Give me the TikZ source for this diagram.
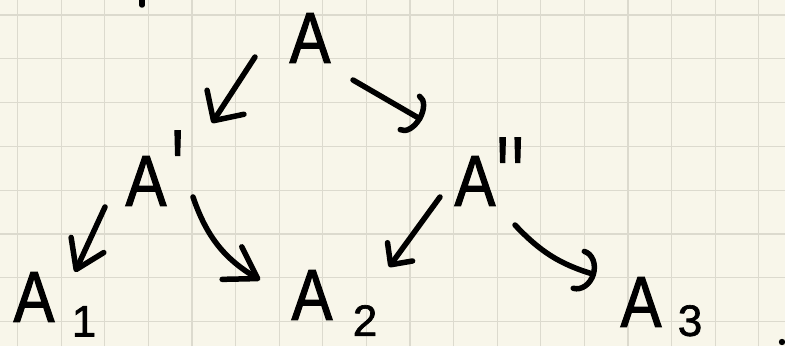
\documentclass[tikz,border=0pt]{standalone}
\usepackage{fontspec}
\usepackage{graphicx}
\newfontfamily\handfont[FakeStretch=0.85,FakeBold=1.5,Ligatures=TeXOff]{Liberation Sans}
\newfontfamily\digitfont[FakeBold=1.5]{Liberation Sans}
\usepackage{tikz}
\usetikzlibrary{arrows.meta,positioning}
\definecolor{paper}{HTML}{F8F6EA}
\definecolor{gridline}{HTML}{DCDACE}

\begin{document}
\begin{tikzpicture}[x=1pt, y=1pt,
  letter/.style={inner sep=0pt, font=\handfont\fontsize{72}{72}\selectfont},
  primemark/.style={inner sep=0pt, anchor=south west, font=\handfont\fontsize{72}{72}\selectfont},
  idx/.style={inner sep=0pt, font=\digitfont\fontsize{44}{44}\selectfont},
  pen/.style={line width=5.5pt, line cap=round, line join=round},
  barb/.style={pen, -{Straight Barb[#1, round]}},
  barb/.default={length=24pt, width=40pt},
  hook/.style={pen, -{Arc Barb[#1, round]}},
  hook/.default={length=14pt, width=44pt}
]
\useasboundingbox (0,0) rectangle (785,346);
\fill[paper] (0,0) rectangle (785,346);
% squared paper
\foreach \gx in {0,...,17}
  \draw[gridline, line width=1.2pt] ({17.5+43.6*\gx},0) -- ({17.5+43.6*\gx},346);
\foreach \gy in {0,...,7}
  \draw[gridline, line width=1.2pt] (0,{331-43.8*\gy}) -- (785,{331-43.8*\gy});

% letters
\node[letter] (A) at (310,308) {A};
\node[letter] (Ap) at (146,165) {A};
\node[letter] (App) at (475,165) {A};
\node[letter] (A1) at (34,49) {A};
\node[letter] (A2) at (312,51) {A};
\node[letter] (A3) at (641,44) {A};

% primes and indices
\node[primemark] (Ap-mark) at ([shift={(5,-52)}]Ap.north east) {\scalebox{1}[1.55]{'}};
\node[primemark] (App-mark) at ([shift={(1,-59)}]App.north east) {\scalebox{1}[1.55]{'}};
\node[primemark] (App-mark2) at ([shift={(3,0)}]App-mark.south east) {\scalebox{1}[1.55]{'}};
\node[idx, below right=-16pt and 17pt of A1] (A1-idx) {1};
\node[idx, below right=-15pt and 20pt of A2] (A2-idx) {2};
\node[idx, below right=-22pt and 16pt of A3] (A3-idx) {3};

% arrows
\draw[barb={length=22pt, width=44pt}] ([shift={(-55,-19)}]A.center) -- ([shift={(66,58)}]Ap.center);
\draw[hook] ([shift={(43,-42)}]A.center) -- ([shift={(-53,61)}]App.center);
\draw[barb={length=27pt, width=36pt}] ([shift={(-41,-26)}]Ap.center) -- ([shift={(41,25)}]A1.center);
\draw[barb={length=30pt, width=38pt}] ([shift={(47,-16)}]Ap.center) to[bend right=20] ([shift={(-52,15)}]A2.center);
\draw[barb={length=16pt, width=31pt}] ([shift={(-35,-16)}]App.center) -- ([shift={(77,28)}]A2.center);
\draw[hook={length=18pt, width=44pt}] ([shift={(40,-44)}]App.center) to[bend right=15] ([shift={(-45,27)}]A3.center);

% stray pen marks
\draw[pen] (142,346) -- (142,341);
\fill (782,4) circle (3.2pt);
\end{tikzpicture}
\end{document}
